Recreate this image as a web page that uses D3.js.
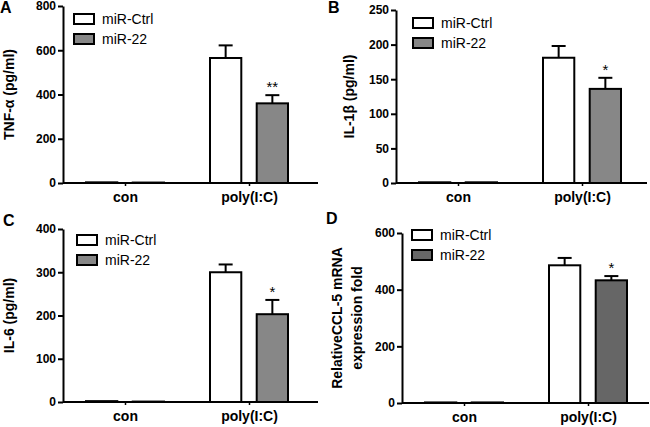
<!DOCTYPE html>
<html>
<head>
<meta charset="utf-8">
<script src="https://cdn.jsdelivr.net/npm/d3@7"></script>
<style>
  body { margin: 0; background: #fff; }
  text { font-family: "Liberation Sans", Arial, sans-serif; }
</style>
</head>
<body>
<div id="chart"></div>
<script>
// data
var categories = ["con", "poly(I:C)"];
var series = ["miR-Ctrl", "miR-22"];

var tnfMean = [[3, 2], [565, 360]];
var tnfErr = [[0, 0], [57, 37]];
var il1bMean = [[1, 1], [181, 136]];
var il1bErr = [[0, 0], [17, 16]];
var il6Mean = [[2, 1], [300, 203]];
var il6Err = [[0, 0], [18, 33]];
var ccl5Mean = [[2, 2], [486, 433]];
var ccl5Err = [[0, 0], [26, 15]];

var tnfTicks = [0, 200, 400, 600, 800];
var il1bTicks = [0, 50, 100, 150, 200, 250];
var il6Ticks = [0, 100, 200, 300, 400];
var ccl5Ticks = [0, 200, 400, 600];

var stars = ["**", "*", "*", "*"];

var panels = [
    {letter: "A", label: ["TNF-\u03b1 (pg/ml)"], mean: tnfMean, err: tnfErr, ticks: tnfTicks,
     left: 63, right: 318, top: 6, bottom: 183, gray: "#878787", lx: 9, legX: 74, legY: 14,
     px: 0, py: 13},
    {letter: "B", label: ["IL-1\u03b2 (pg/ml)"], mean: il1bMean, err: il1bErr, ticks: il1bTicks,
     left: 396, right: 647, top: 10, bottom: 183, gray: "#878787", lx: 349, legX: 413, legY: 18,
     px: 328, py: 13},
    {letter: "C", label: ["IL-6 (pg/ml)"], mean: il6Mean, err: il6Err, ticks: il6Ticks,
     left: 63, right: 318, top: 229, bottom: 402, gray: "#878787", lx: 9, legX: 77, legY: 235,
     px: 3, py: 226},
    {letter: "D", label: ["RelativeCCL-5 mRNA", "expression fold"], mean: ccl5Mean, err: ccl5Err, ticks: ccl5Ticks,
     left: 402, right: 649, top: 233, bottom: 403, gray: "#666666", lx: 337, legX: 412, legY: 230,
     px: 326, py: 224}
];

var svg = d3.select("#chart").append("svg")
    .attr("width", 650)
    .attr("height", 427);

panels.forEach(function(p, pi) {

    var g = svg.append("g");

    var y = d3.scaleLinear()
        .domain([0, d3.max(p.ticks)])
        .range([p.bottom, p.top]);

    var x0 = d3.scalePoint()
        .domain(categories)
        .range([p.left, p.left + 248])
        .padding(0.5);

    var x1 = d3.scaleBand()
        .domain(series)
        .range([-39, 39])
        .paddingInner(0.33);

    var fill = {"miR-Ctrl": "#ffffff", "miR-22": p.gray};

    // y axis
    var ya = g.append("g")
        .attr("transform", "translate(" + p.left + ",0)")
        .call(d3.axisLeft(y).tickValues(p.ticks).tickSize(5).tickPadding(2).tickSizeOuter(0));
    ya.select(".domain").attr("stroke", "#000").attr("stroke-width", 2);
    ya.selectAll(".tick line").attr("stroke", "#000").attr("stroke-width", 2);
    ya.selectAll(".tick text")
        .attr("fill", "#000")
        .style("font-size", "12px")
        .style("font-weight", "bold");

    // bars
    categories.forEach(function(c, ci) {
        series.forEach(function(s, si) {
            var v = p.mean[ci][si];
            var e = p.err[ci][si];
            var bx = x0(c) + x1(s);
            var bw = x1.bandwidth();

            g.append("rect")
                .attr("x", bx)
                .attr("y", y(v))
                .attr("width", bw)
                .attr("height", y(0) - y(v))
                .attr("fill", fill[s])
                .attr("stroke", "#000")
                .attr("stroke-width", 2);

            if (e > 0) {
                var cx = bx + bw / 2;
                g.append("line")
                    .attr("x1", cx).attr("x2", cx)
                    .attr("y1", y(v)).attr("y2", y(v + e))
                    .attr("stroke", "#000").attr("stroke-width", 2);
                g.append("line")
                    .attr("x1", cx - 7).attr("x2", cx + 7)
                    .attr("y1", y(v + e)).attr("y2", y(v + e))
                    .attr("stroke", "#000").attr("stroke-width", 2);
                if (si === 1) {
                    g.append("text")
                        .attr("x", cx)
                        .attr("y", y(v + e) - 3)
                        .attr("text-anchor", "middle")
                        .style("font-size", "15px")
                        .text(stars[pi]);
                }
            }
        });
    });

    // x axis
    var xa = g.append("g")
        .attr("transform", "translate(0," + p.bottom + ")")
        .call(d3.axisBottom(x0).tickSize(3).tickPadding(6).tickSizeOuter(0));
    xa.select(".domain")
        .attr("d", "M" + p.left + ",0H" + p.right)
        .attr("stroke", "#000").attr("stroke-width", 2);
    xa.selectAll(".tick line").attr("stroke", "#000").attr("stroke-width", 1.5);
    xa.selectAll(".tick text")
        .attr("fill", "#000")
        .style("font-size", "14px")
        .style("font-weight", "bold");

    // y label
    var midY = (p.top + p.bottom) / 2;
    p.label.forEach(function(t, li) {
        g.append("text")
            .attr("transform", "translate(" + (p.lx + li * 20) + "," + midY + ") rotate(-90)")
            .attr("text-anchor", "middle")
            .attr("dominant-baseline", "central")
            .style("font-size", "14px")
            .style("font-weight", "bold")
            .text(t);
    });

    // panel letter
    g.append("text")
        .attr("x", p.px)
        .attr("y", p.py)
        .style("font-size", "16px")
        .style("font-weight", "bold")
        .text(p.letter);

    // legend
    series.forEach(function(s, si) {
        g.append("rect")
            .attr("x", p.legX)
            .attr("y", p.legY + si * 20)
            .attr("width", 20)
            .attr("height", 10)
            .attr("fill", fill[s])
            .attr("stroke", "#000")
            .attr("stroke-width", 2);
        g.append("text")
            .attr("x", p.legX + 28)
            .attr("y", p.legY + si * 20 + 5)
            .attr("dominant-baseline", "central")
            .style("font-size", "14px")
            .text(s);
    });
});
</script>
</body>
</html>
